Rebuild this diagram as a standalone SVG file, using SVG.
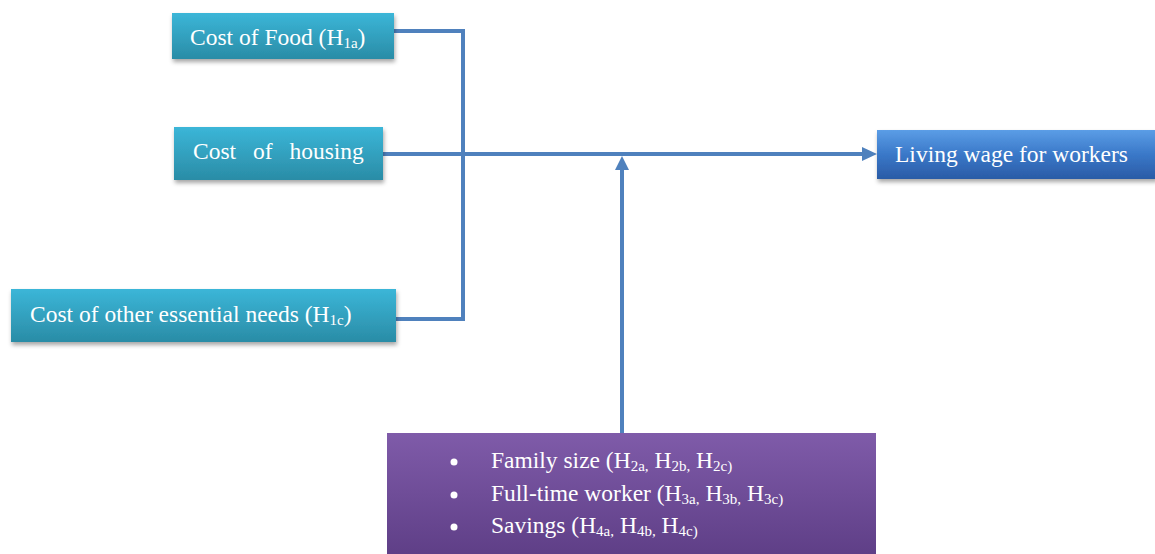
<svg xmlns="http://www.w3.org/2000/svg" width="1155" height="554" viewBox="0 0 1155 554">
<defs>
<linearGradient id="teal" x1="0" y1="0" x2="0" y2="1"><stop offset="0" stop-color="#3bb6d8"/><stop offset="1" stop-color="#2a8ca6"/></linearGradient>
<linearGradient id="blue" x1="0" y1="0" x2="0" y2="1"><stop offset="0" stop-color="#5b9de6"/><stop offset="0.5" stop-color="#3a78c8"/><stop offset="1" stop-color="#2a5ba6"/></linearGradient>
<linearGradient id="purple" x1="0" y1="0" x2="0" y2="1"><stop offset="0" stop-color="#7f5ba9"/><stop offset="1" stop-color="#5e3e86"/></linearGradient>
<filter id="sh" x="-10%" y="-20%" width="120%" height="150%"><feDropShadow dx="1" dy="3" stdDeviation="2" flood-color="#000" flood-opacity="0.35"/></filter>
</defs>
<style>
.t{font-family:"Liberation Serif","Times New Roman",serif;font-size:23.5px;fill:#fff}
.s{font-size:15px}
.c{fill:none;stroke:#4f81bd;stroke-width:4}
</style>
<g id="connectors">
<polyline class="c" points="394,31 463,31 463,319 396,319"/>
<line class="c" x1="383" y1="154" x2="864" y2="154"/>
<path d="M862,147 L877,154 L862,161 z" fill="#4f81bd"/>
<line class="c" x1="622" y1="433" x2="622" y2="168"/>
<path d="M615,170 L622,156 L629,170 z" fill="#4f81bd"/>
</g>
<g id="food">
<rect x="172" y="13" width="222" height="46" fill="url(#teal)" filter="url(#sh)"/>
<text class="t" x="190" y="45">Cost of Food (H<tspan class="s" dy="3">1a</tspan><tspan dy="-3">)</tspan></text>
</g>
<g id="housing">
<rect x="174" y="127" width="209" height="53" fill="url(#teal)" filter="url(#sh)"/>
<text class="t" x="193" y="159" word-spacing="11">Cost of housing</text>
</g>
<g id="other">
<rect x="11" y="289" width="385" height="53" fill="url(#teal)" filter="url(#sh)"/>
<text class="t" x="30" y="322">Cost of other essential needs (H<tspan class="s" dy="3">1c</tspan><tspan dy="-3">)</tspan></text>
</g>
<g id="living">
<rect x="877" y="130" width="280" height="49" fill="url(#blue)" filter="url(#sh)"/>
<text class="t" x="895" y="162">Living wage for workers</text>
</g>
<g id="moderators">
<rect x="387" y="433" width="489" height="125" fill="url(#purple)"/>
<circle cx="454" cy="462" r="3.5" fill="#fff"/>
<circle cx="454" cy="495" r="3.5" fill="#fff"/>
<circle cx="454" cy="527" r="3.5" fill="#fff"/>
<text class="t" x="491" y="468">Family size (H<tspan class="s" dy="3">2a,</tspan><tspan dy="-3"> H</tspan><tspan class="s" dy="3">2b,</tspan><tspan dy="-3"> H</tspan><tspan class="s" dy="3">2c)</tspan></text>
<text class="t" x="491" y="501">Full-time worker (H<tspan class="s" dy="3">3a,</tspan><tspan dy="-3"> H</tspan><tspan class="s" dy="3">3b,</tspan><tspan dy="-3"> H</tspan><tspan class="s" dy="3">3c)</tspan></text>
<text class="t" x="491" y="533">Savings (H<tspan class="s" dy="3">4a,</tspan><tspan dy="-3"> H</tspan><tspan class="s" dy="3">4b,</tspan><tspan dy="-3"> H</tspan><tspan class="s" dy="3">4c)</tspan></text>
</g>
</svg>
